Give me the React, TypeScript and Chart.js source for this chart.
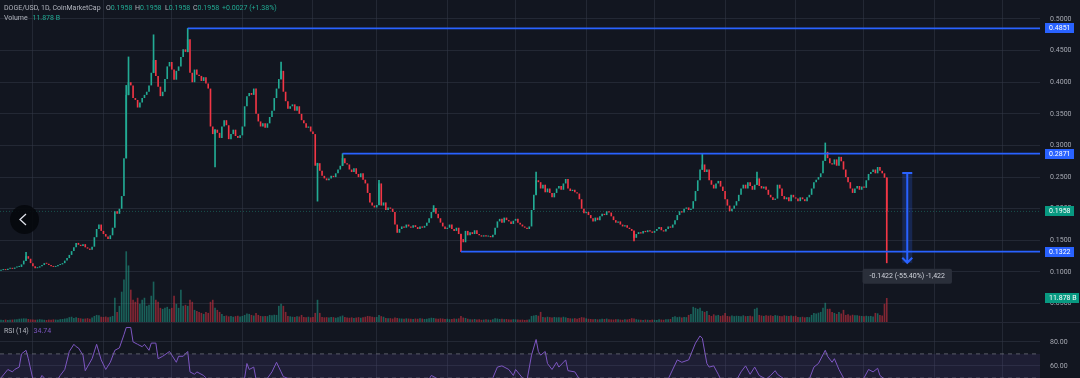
import React, { useEffect, useRef } from "react";
import { Chart, registerables } from "chart.js";

Chart.register(...registerables);

const FONT = "Roboto, 'Liberation Sans', Arial, sans-serif";
const BG = "#121620";
const GRID = "rgba(52,57,72,0.5)";
const AXIS_TEXT = "#a6a9b2";
const UP = "#22ab94";
const DOWN = "#f23645";
const UP_VOL = "rgba(34,171,148,0.5)";
const DOWN_VOL = "rgba(242,54,69,0.5)";
const BLUE = "#2962ff";
const RSI_COLOR = "#7e57c2";
const AXIS_W = 40;

// Daily closes, 1/1000 USD, one per day from 17 Sep 2024 (day 0) to 10 Oct 2025 (day 389)
const closes = [
  103, 104, 103, 105, 106, 105, 107, 108, 108, 112,
  118, 125, 121, 114, 109, 106, 107, 109, 111, 114,
  113, 111, 109, 108, 109, 111, 112, 114, 118, 122,
  127, 133, 139, 146, 143, 141, 144, 139, 137, 135,
  140, 155, 168, 175, 165, 160, 156, 152, 158, 170,
  196, 192, 200, 220, 280, 380, 400, 395, 375, 372,
  360, 368, 375, 380, 385, 395, 415, 435, 410, 393,
  378, 385, 405, 425, 432, 420, 404, 418, 425, 440,
  452, 448, 468, 415, 400, 420, 412, 410, 402, 408,
  398, 390, 330, 318, 325, 320, 312, 330, 340, 332,
  310, 318, 325, 315, 312, 316, 330, 362, 378, 383,
  380, 390, 350, 338, 330, 335, 328, 335, 345, 355,
  375, 390, 405, 418, 385, 370, 358, 362, 365, 355,
  362, 350, 340, 335, 328, 330, 322, 318, 268, 272,
  260, 252, 248, 245, 248, 252, 250, 256, 262, 268,
  280, 272, 270, 262, 258, 264, 255, 250, 256, 246,
  240, 225, 210, 205, 202, 206, 240, 205, 210, 198,
  202, 200, 195, 175, 162, 168, 172, 170, 175, 172,
  170, 174, 171, 168, 172, 170, 173, 178, 185, 195,
  201, 192, 185, 178, 172, 168, 170, 175, 168, 165,
  170, 160, 152, 147, 165, 158, 163, 160, 166, 160,
  158, 156, 158, 156, 157, 155, 159, 170, 180, 184,
  178, 186, 182, 180, 176, 181, 184, 178, 175, 172,
  170, 168, 172, 198, 222, 245, 242, 232, 238, 226,
  232, 225, 218, 225, 232, 236, 230, 240, 247, 232,
  228, 230, 226, 224, 215, 200, 193, 195, 190, 185,
  180, 186, 182, 188, 192, 190, 196, 194, 188, 182,
  178, 180, 175, 172, 174, 170, 168, 165, 154, 160,
  163, 161, 165, 163, 166, 164, 162, 165, 168, 171,
  166, 164, 168, 172, 170, 175, 182, 190, 196, 194,
  200, 202, 198, 200, 212, 228, 245, 262, 270, 258,
  262, 245, 238, 232, 240, 244, 235, 228, 215, 205,
  196, 200, 205, 212, 222, 232, 238, 232, 242, 236,
  230, 238, 248, 236, 232, 235, 230, 222, 218, 214,
  216, 238, 232, 220, 215, 218, 212, 222, 218, 216,
  212, 218, 215, 212, 218, 222, 232, 242, 246, 250,
  256, 276, 290, 280, 272, 270, 278, 268, 282, 275,
  262, 250, 242, 232, 225, 232, 236, 230, 235, 233,
  245, 255, 258, 262, 256, 266, 260, 256, 249, 195.8,
];
const firstOpen = 102;

// Candles with visible wicks (1/1000 USD)
const wickDays = [11, 55, 56, 67, 82, 94, 123, 139, 150, 166, 190, 202, 235, 278, 308, 332, 362, 389];
const wickHighs = [131, 395, 440, 475, 485.1, null, 432, null, 287.1, 245, 205, null, 258, null, 287.5, 258, 304, null];
const wickLows = [null, null, null, null, null, 266, null, 212, null, null, null, 132.2, null, 149, null, null, null, 114.5];

// Daily volume, billions
const volumes = [
  1.1, 1.0, 1.2, 1.0, 1.1, 1.2, 1.3, 1.4, 1.6, 1.7,
  1.8, 1.7, 1.5, 1.3, 1.2, 1.1, 1.2, 1.4, 1.2, 1.1,
  1.0, 1.2, 1.1, 1.3, 1.2, 1.1, 1.4, 1.5, 1.7, 1.8,
  2.4, 2.6, 2.0, 2.4, 2.0, 1.8, 1.6, 1.7, 1.9, 1.6,
  2.2, 3.0, 3.5, 3.4, 2.6, 2.5, 2.7, 2.4, 2.6, 3.0,
  12, 5.0, 8, 15, 21, 35, 28, 16, 11, 10,
  12, 9, 11, 12, 8, 8.5, 13, 20, 11, 10,
  7, 6.5, 7, 7.5, 6.5, 7, 13, 9, 7, 16,
  8, 8.5, 8, 11, 10, 6, 5.5, 5, 4.5, 4,
  5, 4.5, 10, 11, 7, 6, 5, 4, 3, 3.2,
  2.8, 3, 2.6, 2.9, 3.1, 2.7, 3, 3.5, 4.2, 4,
  3.5, 3.2, 4.5, 3.5, 3, 2.8, 3, 2.9, 3.5, 3.4,
  3.6, 3.5, 8, 9, 8, 5, 3, 2.8, 2.6, 2.5,
  2.8, 2.7, 3.5, 2.5, 2.4, 2.6, 2.3, 2.5, 4.5, 11,
  4.5, 2.5, 2.3, 2.4, 2.2, 2.5, 2.4, 2.1, 2.3, 2.8,
  3.2, 2.5, 2.2, 2.1, 2.3, 2.0, 2.2, 2.4, 2.1, 2.3,
  2.6, 3.0, 2.8, 2.6, 2.4, 2.5, 3.5, 2.9, 2.6, 2.0,
  1.8, 1.9, 1.7, 2.2, 2.0, 1.8, 1.7, 1.6, 1.8, 1.7,
  1.6, 1.5, 1.7, 1.6, 1.8, 1.7, 1.5, 1.6, 1.8, 2.1,
  2.0, 1.7, 1.6, 1.8, 1.7, 1.5, 1.6, 1.4, 1.5, 1.7,
  1.6, 1.8, 3.0, 2.2, 2.0, 1.6, 1.4, 1.3, 1.5, 1.2,
  1.3, 1.1, 1.2, 1.3, 1.2, 1.1, 1.3, 1.8, 1.7, 1.5,
  1.6, 1.4, 1.5, 1.3, 1.2, 1.4, 1.3, 1.2, 1.1, 1.2,
  1.0, 1.1, 1.3, 3.0, 3.2, 3.5, 3.1, 5.0, 2.5, 2.3,
  2.6, 2.4, 2.2, 2.5, 2.3, 2.4, 2.2, 2.6, 2.3, 2.0,
  1.8, 1.7, 1.9, 1.6, 2.0, 2.4, 2.2, 1.8, 1.6, 1.5,
  1.4, 1.5, 1.3, 1.4, 1.6, 1.5, 1.7, 1.4, 1.3, 1.2,
  1.4, 1.3, 1.2, 1.1, 1.3, 1.2, 1.5, 1.9, 1.7, 1.4,
  1.2, 1.1, 1.0, 1.2, 1.1, 1.0, 1.2, 1.1, 1.0, 1.3,
  1.2, 1.1, 1.3, 1.4, 1.5, 2.5, 2.8, 2.4, 2.6, 2.2,
  2.5, 2.4, 3.5, 4.0, 7.5, 7.0, 6.5, 7.0, 5.5, 5.0,
  5.5, 3.5, 3.0, 3.8, 3.2, 3.5, 3.0, 3.3, 4.5, 3.0,
  2.8, 3.2, 2.9, 3.1, 3.0, 2.8, 3.3, 2.9, 3.0, 3.1,
  2.8, 6.5, 7.0, 3.5, 3.2, 3.0, 3.4, 3.1, 3.3, 3.0,
  3.4, 3.2, 3.0, 2.9, 3.3, 3.1, 3.0, 3.2, 2.9, 3.1,
  2.5, 2.4, 2.6, 2.3, 2.5, 2.4, 3.5, 4.5, 4.2, 4.6,
  5.0, 7.0, 9.5, 6.5, 6.5, 5.0, 4.5, 4.0, 5.0, 4.2,
  6.0, 3.5, 3.8, 3.2, 3.6, 3.3, 3.4, 3.1, 3.0, 2.8,
  3.1, 2.9, 3.0, 2.7, 4.5, 4.3, 3.5, 3.2, 9.0, 11.878,
];

// RSI(14) readings (day index, value)
const rsiDays = [
  0, 3, 5, 6, 8, 9, 11, 12, 14, 16, 18, 19, 21, 24, 26, 28, 30, 32, 33, 34,
  36, 37, 40, 42, 44, 46, 48, 50, 52, 54, 55, 57, 58, 60, 62, 63, 65, 66, 68, 69,
  71, 74, 75, 77, 78, 80, 82, 83, 85, 86, 89, 90, 92, 95, 98, 101, 104, 107, 108, 109,
  111, 112, 114, 116, 119, 121, 123, 124, 127, 130, 134, 138, 142, 147, 150, 155, 160, 165, 170, 175,
  180, 185, 189, 192, 195, 200, 203, 207, 212, 216, 218, 220, 223, 225, 226, 229, 231, 233, 235, 236,
  237, 239, 240, 242, 244, 245, 248, 249, 252, 254, 256, 260, 265, 270, 278, 285, 290, 293, 297, 299,
  302, 305, 307, 308, 310, 311, 313, 315, 316, 318, 321, 323, 325, 327, 329, 331, 333, 336, 338, 340,
  341, 344, 348, 352, 355, 357, 359, 362, 363, 365, 366, 368, 370, 373, 376, 379, 381, 383, 385, 386,
  388, 389,
];
const rsiValues = [
  50, 57, 55, 57, 59, 70, 73, 66, 49, 45, 52, 50, 45, 46, 52, 57, 72, 78, 76, 75,
  69, 56, 66, 78, 65, 57, 63, 73, 75, 86, 92, 92, 80, 78, 76, 78, 73, 79, 79, 66,
  68, 72, 69, 63, 68, 68, 72, 55, 53, 55, 52, 50, 44, 42, 44, 43, 46, 50, 62, 57,
  59, 49, 45, 47, 55, 63, 55, 51, 49, 46, 43, 35, 38, 45, 48, 44, 38, 40, 38, 33,
  36, 40, 52, 49, 42, 40, 36, 42, 41, 50, 59, 60, 57, 52, 57, 50, 48, 69, 82, 72,
  69, 72, 62, 57, 63, 59, 65, 56, 55, 49, 43, 40, 44, 40, 33, 42, 45, 49, 65, 63,
  65, 79, 85, 83, 62, 59, 60, 53, 49, 42, 44, 48, 55, 60, 53, 59, 52, 49, 52, 56,
  53, 49, 46, 46, 49, 59, 62, 73, 68, 63, 66, 57, 50, 44, 46, 50, 57, 55, 58, 52,
  49, 35,
];

// Month boundaries (day index) for the vertical grid
const monthStarts = [14, 45, 75, 106, 137, 165, 196, 226, 257, 287, 318, 349, 379, 410, 440];
const priceTicks = [0.05, 0.1, 0.15, 0.2, 0.25, 0.3, 0.35, 0.4, 0.45, 0.5];
const rsiTicks = [60, 80];

// Drawn horizontal rays: start day and price
const levelDays = [82, 150, 202];
const levelPrices = [0.4851, 0.2871, 0.1322];

const lastPrice = 0.1958;
const lastVolume = 11.878;
const lastRsi = "34.74";

// Price-range measurement
const measureDay = 398;
const measureTop = 0.2567;
const measureBottom = 0.1145;
const measureText = "-0.1422 (-55.40%) -1,422";

// Visible window
const viewStartDay = -0.44;
const viewEndDay = 456.3;
const priceMin = 0.02095;
const priceMax = 0.53;
const volumeMax = 159.4;
const rsiMin = 49.9;
const rsiMax = 96.6;
const rsiUpper = 70;
const rsiMiddle = 50;
const rsiLower = 30;

const xScale = () => ({
  type: "linear",
  min: viewStartDay,
  max: viewEndDay,
  offset: false,
  afterBuildTicks: (s: any) => {
    s.ticks = monthStarts.map((v) => ({ value: v }));
  },
  ticks: { display: false },
  grid: { color: GRID, drawTicks: false, offset: false },
  border: { display: false },
});

const fitRightAxis = (s: any) => {
  s.width = AXIS_W;
  s.paddingTop = 0;
  s.paddingBottom = 0;
};

export default function App() {
  const mainRef = useRef<HTMLCanvasElement>(null);
  const rsiRef = useRef<HTMLCanvasElement>(null);

  useEffect(() => {
    document.body.style.margin = "0";
    document.body.style.background = BG;

    const opens = closes.map((c, i) => (i === 0 ? firstOpen : closes[i - 1]));
    const isUp = closes.map((c, i) => c >= opens[i]);

    const overlay = {
      id: "overlay",
      afterDatasetsDraw(chart: any) {
        const { ctx, scales } = chart;
        const x = scales.x;
        const y = scales.y;
        const mx = x.getPixelForValue(measureDay);
        const yt = y.getPixelForValue(measureTop);
        const yb = y.getPixelForValue(measureBottom);
        ctx.save();
        ctx.fillStyle = "rgba(41,98,255,0.22)";
        ctx.fillRect(mx - 5, yt, 10, yb - yt);
        ctx.strokeStyle = BLUE;
        ctx.lineWidth = 2;
        ctx.beginPath();
        ctx.moveTo(mx, yt);
        ctx.lineTo(mx, yb);
        ctx.moveTo(mx - 5, yt);
        ctx.lineTo(mx + 5, yt);
        ctx.moveTo(mx - 5, yb - 5);
        ctx.lineTo(mx, yb);
        ctx.lineTo(mx + 5, yb - 5);
        ctx.stroke();
        ctx.font = `7px ${FONT}`;
        const tw = ctx.measureText(measureText).width;
        const bw = tw + 14;
        ctx.fillStyle = "rgba(44,48,60,0.95)";
        ctx.beginPath();
        (ctx as any).roundRect(mx - bw / 2, yb + 6, bw, 15, 2);
        ctx.fill();
        ctx.fillStyle = "#d1d4dc";
        ctx.textAlign = "center";
        ctx.textBaseline = "middle";
        ctx.fillText(measureText, mx, yb + 13.5);
        ctx.restore();
      },
      afterDraw(chart: any) {
        const { ctx, scales } = chart;
        const y = scales.y;
        const yVol = scales.yVol;
        const left = chart.chartArea.right + 5;
        ctx.save();
        ctx.font = `7px ${FONT}`;
        ctx.textBaseline = "middle";
        ctx.textAlign = "left";
        const box = (py: number, text: string, bg: string, w: number) => {
          const top = Math.round(py) - 5;
          ctx.fillStyle = bg;
          ctx.fillRect(left, top, w, 10);
          ctx.fillStyle = "#ffffff";
          ctx.fillText(text, left + 4, top + 5.5);
        };
        levelPrices.forEach((p) => box(y.getPixelForValue(p), p.toFixed(4), BLUE, 29));
        box(y.getPixelForValue(lastPrice), lastPrice.toFixed(4), "#089981", 29);
        box(yVol.getPixelForValue(lastVolume), lastVolume.toFixed(3) + " B", "#089981", 34);
        ctx.restore();
      },
    };

    const main = new Chart(mainRef.current as HTMLCanvasElement, {
      type: "bar",
      data: {
        datasets: [
          {
            type: "bar",
            label: "Volume",
            yAxisID: "yVol",
            data: volumes.map((v, i) => ({ x: i, y: v })),
            backgroundColor: isUp.map((u) => (u ? UP_VOL : DOWN_VOL)),
            barPercentage: 0.72,
            categoryPercentage: 1,
            grouped: false,
            order: 10,
          },
          {
            type: "line",
            label: "Last price",
            yAxisID: "y",
            data: [
              { x: viewStartDay, y: lastPrice },
              { x: viewEndDay, y: lastPrice },
            ],
            borderColor: "rgba(34,171,148,0.4)",
            borderWidth: 1,
            borderDash: [1, 2],
            pointRadius: 0,
            order: 9,
          },
          {
            type: "bar",
            label: "Wicks",
            yAxisID: "y",
            data: wickDays.map((d, k) => {
              const o = opens[d];
              const c = closes[d];
              const hi = wickHighs[k] ?? Math.max(o, c);
              const lo = wickLows[k] ?? Math.min(o, c);
              return { x: d, y: [lo / 1000, hi / 1000] };
            }),
            backgroundColor: wickDays.map((d) => (isUp[d] ? UP : DOWN)),
            barThickness: 1,
            grouped: false,
            order: 6,
          },
          {
            type: "bar",
            label: "DOGE/USD",
            yAxisID: "y",
            data: closes.map((c, i) => ({ x: i, y: [opens[i] / 1000, c / 1000] })),
            backgroundColor: isUp.map((u) => (u ? UP : DOWN)),
            barPercentage: 0.72,
            categoryPercentage: 1,
            minBarLength: 1,
            grouped: false,
            order: 5,
          },
          ...levelPrices.map((p, k) => ({
            type: "line",
            label: "Level " + p,
            yAxisID: "y",
            data: [
              { x: levelDays[k], y: p },
              { x: viewEndDay, y: p },
            ],
            borderColor: BLUE,
            borderWidth: 1.7,
            pointRadius: 0,
            order: 2,
          })),
        ] as any,
      },
      options: {
        responsive: false,
        animation: false,
        devicePixelRatio: 1,
        events: [],
        layout: { padding: 0 },
        plugins: { legend: { display: false }, tooltip: { enabled: false } },
        scales: {
          x: xScale() as any,
          y: {
            type: "linear",
            position: "right",
            min: priceMin,
            max: priceMax,
            afterBuildTicks: (s: any) => {
              s.ticks = priceTicks.map((v) => ({ value: v }));
            },
            afterFit: fitRightAxis,
            ticks: {
              color: AXIS_TEXT,
              font: { family: FONT, size: 7 },
              padding: 10,
              callback: (v: any) => Number(v).toFixed(4),
            },
            grid: { color: GRID, drawTicks: false },
            border: { display: false },
          },
          yVol: { type: "linear", display: false, min: 0, max: volumeMax },
        },
      } as any,
      plugins: [overlay],
    });

    const rsi = new Chart(rsiRef.current as HTMLCanvasElement, {
      type: "line",
      data: {
        datasets: [
          {
            label: "Upper band",
            data: [
              { x: viewStartDay, y: rsiUpper },
              { x: viewEndDay, y: rsiUpper },
            ],
            borderColor: "rgba(120,123,134,0.7)",
            borderDash: [4, 4],
            borderWidth: 1,
            pointRadius: 0,
            fill: { value: rsiLower },
            backgroundColor: "rgba(126,87,194,0.12)",
          },
          {
            label: "Middle band",
            data: [
              { x: viewStartDay, y: rsiMiddle },
              { x: viewEndDay, y: rsiMiddle },
            ],
            borderColor: "rgba(120,123,134,0.5)",
            borderDash: [4, 4],
            borderWidth: 1,
            pointRadius: 0,
            fill: false,
          },
          {
            label: "RSI (14)",
            data: rsiDays.map((d, k) => ({ x: d, y: rsiValues[k] })),
            borderColor: RSI_COLOR,
            borderWidth: 1,
            pointRadius: 0,
            fill: false,
            tension: 0,
          },
        ] as any,
      },
      options: {
        responsive: false,
        animation: false,
        devicePixelRatio: 1,
        events: [],
        layout: { padding: 0 },
        plugins: { legend: { display: false }, tooltip: { enabled: false } },
        scales: {
          x: xScale() as any,
          y: {
            type: "linear",
            position: "right",
            min: rsiMin,
            max: rsiMax,
            afterBuildTicks: (s: any) => {
              s.ticks = rsiTicks.map((v) => ({ value: v }));
            },
            afterFit: fitRightAxis,
            ticks: {
              color: AXIS_TEXT,
              font: { family: FONT, size: 7 },
              padding: 10,
              callback: (v: any) => Number(v).toFixed(2),
            },
            grid: { color: GRID, drawTicks: false },
            border: { display: false },
          },
        },
      } as any,
    });

    return () => {
      main.destroy();
      rsi.destroy();
    };
  }, []);

  const label: React.CSSProperties = {
    position: "absolute",
    fontSize: 7,
    lineHeight: "10px",
    color: "#b2b5be",
    whiteSpace: "nowrap",
  };
  const val: React.CSSProperties = { color: UP };

  return (
    <div
      style={{
        position: "relative",
        width: 1080,
        height: 378,
        background: BG,
        overflow: "hidden",
        fontFamily: FONT,
      }}
    >
      <canvas ref={mainRef} width={1080} height={322} style={{ position: "absolute", left: 0, top: 0 }} />
      <canvas ref={rsiRef} width={1080} height={56} style={{ position: "absolute", left: 0, top: 322 }} />
      <div style={{ position: "absolute", left: 0, top: 322, width: 1080, height: 1, background: "#242835" }} />

      <div style={{ ...label, left: 4, top: 3 }}>DOGE/USD, 1D, CoinMarketCap</div>
      <div style={{ ...label, left: 106, top: 3 }}>
        O<span style={val}>0.1958</span>
      </div>
      <div style={{ ...label, left: 135, top: 3 }}>
        H<span style={val}>0.1958</span>
      </div>
      <div style={{ ...label, left: 165, top: 3 }}>
        L<span style={val}>0.1958</span>
      </div>
      <div style={{ ...label, left: 193, top: 3 }}>
        C<span style={val}>0.1958</span>
      </div>
      <div style={{ ...label, left: 222, top: 3, color: UP }}>+0.0027 (+1.38%)</div>
      <div style={{ ...label, left: 4, top: 12.5 }}>
        Volume <span style={{ ...val, marginLeft: 3 }}>11.878 B</span>
      </div>

      <div style={{ ...label, left: 4, top: 326 }}>
        RSI (14) <span style={{ color: RSI_COLOR, marginLeft: 3 }}>{lastRsi}</span>
      </div>

      <div
        style={{
          position: "absolute",
          left: 10,
          top: 205,
          width: 29,
          height: 29,
          borderRadius: "50%",
          background: "rgba(6,8,12,0.9)",
        }}
      >
        <svg width="29" height="29">
          <polyline points="16,9 10,14.5 16,20" fill="none" stroke="#e0e3eb" strokeWidth="1.3" />
        </svg>
      </div>
    </div>
  );
}
